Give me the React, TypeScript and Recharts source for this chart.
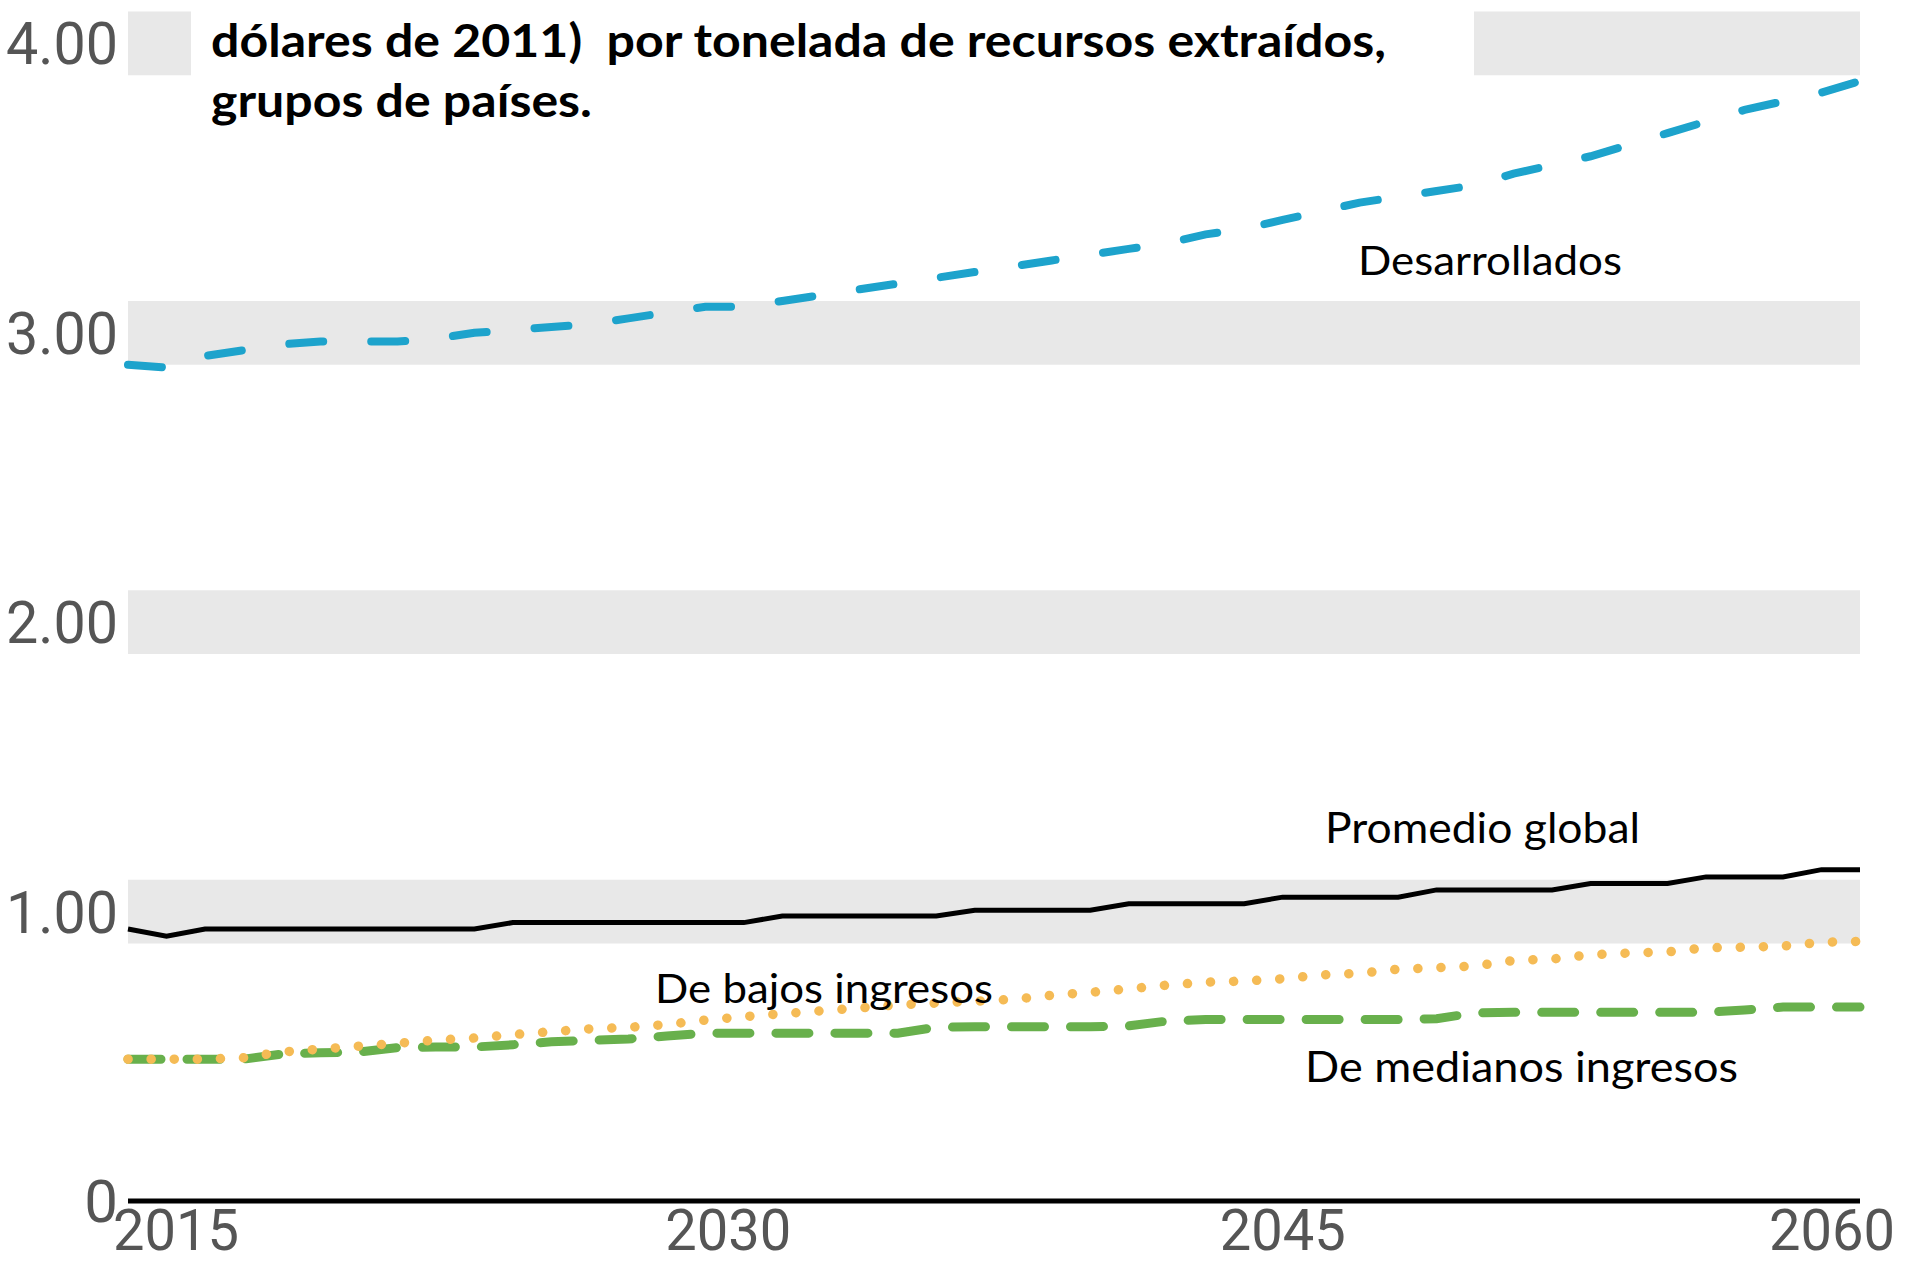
import React from "react";
import { LineChart, Line, XAxis, YAxis, ReferenceArea } from "recharts";

const years = [
  2015, 2016, 2017, 2018, 2019, 2020, 2021, 2022, 2023, 2024,
  2025, 2026, 2027, 2028, 2029, 2030, 2031, 2032, 2033, 2034,
  2035, 2036, 2037, 2038, 2039, 2040, 2041, 2042, 2043, 2044,
  2045, 2046, 2047, 2048, 2049, 2050, 2051, 2052, 2053, 2054,
  2055, 2056, 2057, 2058, 2059, 2060,
];

const desarrollados = [
  2.89, 2.88, 2.92, 2.94, 2.96, 2.97, 2.97, 2.97, 2.98, 3.0,
  3.01, 3.02, 3.03, 3.05, 3.07, 3.09, 3.09, 3.11, 3.13, 3.15,
  3.17, 3.19, 3.21, 3.23, 3.25, 3.27, 3.29, 3.31, 3.34, 3.36,
  3.39, 3.42, 3.45, 3.47, 3.49, 3.51, 3.55, 3.58, 3.61, 3.65,
  3.69, 3.73, 3.77, 3.8, 3.83, 3.87,
];

const promedioGlobal = [
  0.94, 0.915, 0.94, 0.94, 0.94, 0.94, 0.94, 0.94, 0.94, 0.94,
  0.962, 0.962, 0.962, 0.962, 0.962, 0.962, 0.962, 0.985, 0.985, 0.985,
  0.985, 0.985, 1.005, 1.005, 1.005, 1.005, 1.027, 1.027, 1.027, 1.027,
  1.05, 1.05, 1.05, 1.05, 1.075, 1.075, 1.075, 1.075, 1.097, 1.097,
  1.097, 1.12, 1.12, 1.12, 1.145, 1.145,
];

const bajosIngresos = [
  0.49, 0.49, 0.49, 0.495, 0.515, 0.525, 0.535, 0.545, 0.556, 0.563,
  0.575, 0.585, 0.595, 0.6, 0.61, 0.625, 0.637, 0.647, 0.657, 0.667,
  0.678, 0.684, 0.69, 0.697, 0.711, 0.721, 0.733, 0.746, 0.756, 0.76,
  0.768, 0.781, 0.787, 0.801, 0.806, 0.812, 0.831, 0.836, 0.851, 0.857,
  0.861, 0.875, 0.877, 0.881, 0.894, 0.897,
];

const medianosIngresos = [
  0.49, 0.49, 0.49, 0.49, 0.508, 0.512, 0.515, 0.53, 0.532, 0.532,
  0.54, 0.55, 0.555, 0.56, 0.57, 0.58, 0.58, 0.58, 0.58, 0.58,
  0.58, 0.6, 0.602, 0.602, 0.602, 0.602, 0.605, 0.622, 0.627, 0.627,
  0.627, 0.627, 0.627, 0.627, 0.63, 0.65, 0.652, 0.652, 0.652, 0.652,
  0.652, 0.652, 0.66, 0.67, 0.67, 0.67,
];

const yTicks = [0, 1, 2, 3, 4];
const xTicks = [2015, 2030, 2045, 2060];
const bandValues = [1, 2, 3, 4];

const titleLines = [
  "dólares de 2011)  por tonelada de recursos extraídos,",
  "grupos de países.",
];

const seriesLabels = {
  desarrollados: "Desarrollados",
  promedio: "Promedio global",
  bajos: "De bajos ingresos",
  medianos: "De medianos ingresos",
};

const data = years.map((year, i) => ({
  year,
  desarrollados: desarrollados[i],
  promedio: promedioGlobal[i],
  bajos: bajosIngresos[i],
  medianos: medianosIngresos[i],
}));

const W = 1905;
const H = 1271;

const YTick = (props: any) => {
  const { x, y, payload } = props;
  const v = payload.value;
  const label = v === 0 ? "0" : v.toFixed(2);
  return (
    <text
      x={x - 2}
      y={y}
      dy={21}
      textAnchor="end"
      fill="#555555"
      fontFamily="Roboto"
      fontSize={60}
      {...(v === 0 ? {} : { textLength: 112, lengthAdjust: "spacingAndGlyphs" })}
    >
      {label}
    </text>
  );
};

const xOffsets: Record<number, number> = { 2015: 48, 2030: 23, 2045: 0, 2060: -28 };

const XTick = (props: any) => {
  const { x, y, payload } = props;
  const v = payload.value;
  return (
    <text
      x={x + (xOffsets[v] ?? 0)}
      y={y}
      dy={41}
      textAnchor="middle"
      fill="#555555"
      fontFamily="Roboto"
      fontSize={58}
      textLength={126}
      lengthAdjust="spacingAndGlyphs"
    >
      {v}
    </text>
  );
};

export default function App() {
  return (
    <div
      style={{
        position: "absolute",
        left: 0,
        top: 0,
        width: W,
        height: H,
        background: "#ffffff",
        overflow: "hidden",
      }}
    >
      <LineChart
        width={W}
        height={H}
        data={data}
        margin={{ top: 0, right: 45, bottom: 0, left: 0 }}
      >
        {bandValues.map((b) => (
          <ReferenceArea
            key={b}
            y1={b - 0.11}
            y2={b + 0.11}
            x1={2015}
            x2={2060}
            fill="#e8e8e8"
            fillOpacity={1}
            stroke="none"
            ifOverflow="visible"
          />
        ))}
        <XAxis
          dataKey="year"
          type="number"
          domain={[2015, 2060]}
          ticks={xTicks}
          height={70}
          axisLine={{ stroke: "#000000", strokeWidth: 5 }}
          tickLine={false}
          tick={<XTick />}
          interval={0}
        />
        <YAxis
          type="number"
          domain={[0, 4.15]}
          ticks={yTicks}
          width={128}
          axisLine={false}
          tickLine={false}
          tick={<YTick />}
          interval={0}
        />
        <Line
          dataKey="medianos"
          type="linear"
          stroke="#68b04c"
          strokeWidth={9}
          strokeDasharray="33 26"
          strokeLinecap="round"
          dot={false}
          isAnimationActive={false}
        />
        <Line
          dataKey="bajos"
          type="linear"
          stroke="#f5bb55"
          strokeWidth={9.5}
          strokeDasharray="0.1 23"
          strokeLinecap="round"
          dot={false}
          isAnimationActive={false}
        />
        <Line
          dataKey="promedio"
          type="linear"
          stroke="#000000"
          strokeWidth={5}
          dot={false}
          isAnimationActive={false}
        />
        <Line
          dataKey="desarrollados"
          type="linear"
          stroke="#1da3cc"
          strokeWidth={8}
          strokeDasharray="34 48"
          strokeLinecap="round"
          dot={false}
          isAnimationActive={false}
        />
      </LineChart>
      <svg
        width={W}
        height={H}
        style={{ position: "absolute", left: 0, top: 0, pointerEvents: "none" }}
      >
        <rect x={191} y={0} width={1283} height={80} fill="#ffffff" />
        <text
          x={211}
          y={57}
          fontFamily="Lato"
          fontWeight={700}
          fontSize={45}
          fill="#000000"
          textLength={1175}
          lengthAdjust="spacingAndGlyphs"
          style={{ whiteSpace: "pre" }}
        >
          {titleLines[0]}
        </text>
        <text
          x={211}
          y={117}
          fontFamily="Lato"
          fontWeight={700}
          fontSize={45}
          fill="#000000"
          textLength={381}
          lengthAdjust="spacingAndGlyphs"
        >
          {titleLines[1]}
        </text>
        <text x={1358} y={275} fontFamily="Lato" fontSize={41} fill="#000000" textLength={264} lengthAdjust="spacingAndGlyphs">
          {seriesLabels.desarrollados}
        </text>
        <text x={1325} y={843} fontFamily="Lato" fontSize={42} fill="#000000" textLength={315} lengthAdjust="spacingAndGlyphs">
          {seriesLabels.promedio}
        </text>
        <text x={655} y={1003} fontFamily="Lato" fontSize={41} fill="#000000" textLength={338} lengthAdjust="spacingAndGlyphs">
          {seriesLabels.bajos}
        </text>
        <text x={1305} y={1082} fontFamily="Lato" fontSize={42} fill="#000000" textLength={433} lengthAdjust="spacingAndGlyphs">
          {seriesLabels.medianos}
        </text>
      </svg>
    </div>
  );
}
